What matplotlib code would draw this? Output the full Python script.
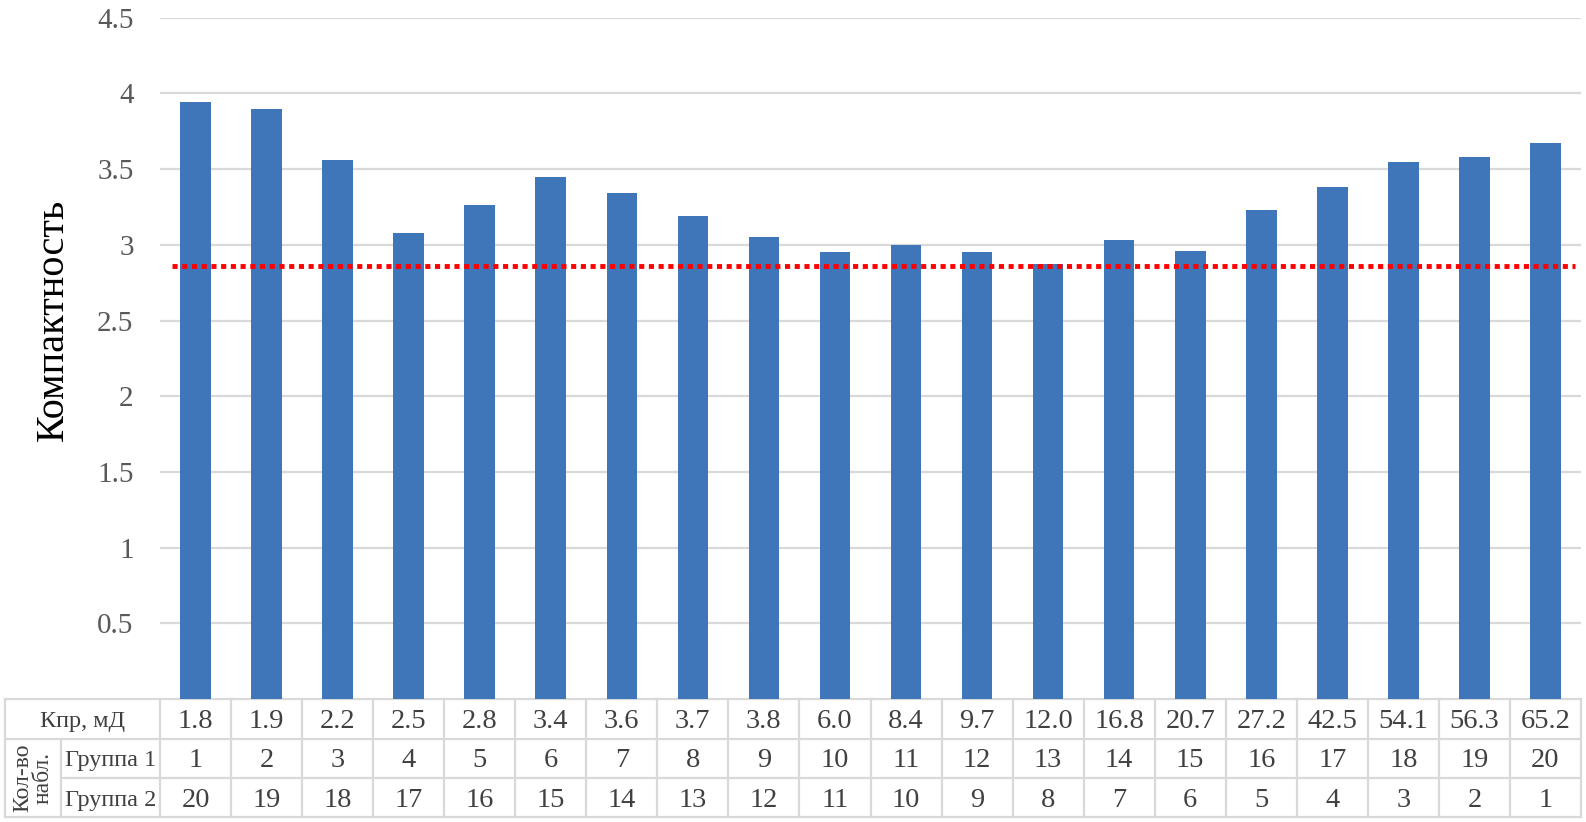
import numpy as np
import matplotlib
matplotlib.use("Agg")
import matplotlib.pyplot as plt
from matplotlib.transforms import blended_transform_factory

# ---- data ----
kpr_labels = ['1.8', '1.9', '2.2', '2.5', '2.8', '3.4', '3.6', '3.7', '3.8', '6.0',
              '8.4', '9.7', '12.0', '16.8', '20.7', '27.2', '42.5', '54.1', '56.3', '65.2']
group1 = [1, 2, 3, 4, 5, 6, 7, 8, 9, 10, 11, 12, 13, 14, 15, 16, 17, 18, 19, 20]
group2 = [20, 19, 18, 17, 16, 15, 14, 13, 12, 11, 10, 9, 8, 7, 6, 5, 4, 3, 2, 1]
compactness = [3.94, 3.90, 3.56, 3.08, 3.26, 3.45, 3.34, 3.19, 3.05, 2.95,
               3.00, 2.95, 2.87, 3.03, 2.96, 3.23, 3.38, 3.55, 3.58, 3.67]
threshold = 2.86
yticks = [0.5, 1, 1.5, 2, 2.5, 3, 3.5, 4, 4.5]
ylabel = 'Компактность'
row_label_kpr = 'Кпр, мД'
row_label_g1 = 'Группа 1'
row_label_g2 = 'Группа 2'
row_label_count = 'Кол-во\nнабл.'

# ---- style ----
plt.rcParams['font.family'] = ['Liberation Serif', 'DejaVu Serif']
W, H = 1586, 822
fig = plt.figure(figsize=(W / 100, H / 100), dpi=100)

ax_left, ax_right, ax_top, ax_bottom = 160, 1581, 17.7, 699
ax = fig.add_axes([ax_left / W, (H - ax_bottom) / H,
                   (ax_right - ax_left) / W, (ax_bottom - ax_top) / H])

x = np.arange(len(compactness))
ax.bar(x, compactness, width=0.43, color='#3e76b9', zorder=3)
ax.plot([-0.33, 19.42], [threshold, threshold], color='#ff0000', lw=3.5,
        linestyle=(0, (1.05, 0.95)), zorder=4, solid_capstyle='butt', dash_capstyle='butt')

ax.set_xlim(-0.5, len(compactness) - 0.5)
ax.set_ylim(0, 4.5)
ax.set_yticks(yticks)
ax.set_yticklabels([('%g' % t) for t in yticks], fontsize=21, color='#595959')
ax.tick_params(axis='y', length=0, pad=19)
ax.set_xticks([])
ax.grid(axis='y', color='#d9d9d9', lw=1.6, zorder=0)
for s in ax.spines.values():
    s.set_visible(False)
ax.set_ylabel(ylabel, fontsize=29, color='black')
ax.yaxis.set_label_coords(-0.062, 0.556)

# ---- table below the axes (x in data coords, y in figure pixels) ----
def fy(py):
    return (H - py) / H

trans = blended_transform_factory(ax.transData, fig.transFigure)
unit = (ax_right - ax_left) / len(compactness)
x_left_outer = -0.5 - (ax_left - 5) / unit
x_split = -0.5 - (ax_left - 61) / unit
x_first = -0.5
x_last = len(compactness) - 0.5
rows = [699, 738.5, 778, 817]
lc = '#d9d9d9'
lw = 1.6

def hline(x0, x1, py):
    ax.add_line(plt.Line2D([x0, x1], [fy(py), fy(py)], transform=trans, color=lc,
                           lw=lw, clip_on=False))

def vline(xx, py0, py1):
    ax.add_line(plt.Line2D([xx, xx], [fy(py0), fy(py1)], transform=trans, color=lc,
                           lw=lw, clip_on=False))

hline(x_left_outer, x_last, rows[0])
hline(x_left_outer, x_last, rows[1])
hline(x_split, x_last, rows[2])
hline(x_left_outer, x_last, rows[3])
vline(x_left_outer, rows[0], rows[3])
vline(x_split, rows[1], rows[3])
for b in np.arange(len(compactness) + 1) - 0.5:
    vline(b, rows[0], rows[3])

tc = '#404040'
fs = 20.5
shift = 2.5
cy = [(rows[i] + rows[i + 1]) / 2 + shift for i in range(3)]
for i in range(len(compactness)):
    ax.text(x[i], fy(cy[0]), kpr_labels[i], transform=trans, ha='center', va='center',
            fontsize=fs, color=tc)
    ax.text(x[i], fy(cy[1]), str(group1[i]), transform=trans, ha='center', va='center',
            fontsize=fs, color=tc)
    ax.text(x[i], fy(cy[2]), str(group2[i]), transform=trans, ha='center', va='center',
            fontsize=fs, color=tc)

ax.text((x_left_outer + x_first) / 2, fy(cy[0]), row_label_kpr, transform=trans,
        ha='center', va='center', fontsize=17.5, color=tc)
ax.text((x_split + x_first) / 2, fy(cy[1]), row_label_g1, transform=trans,
        ha='center', va='center', fontsize=17.5, color=tc)
ax.text((x_split + x_first) / 2, fy(cy[2]), row_label_g2, transform=trans,
        ha='center', va='center', fontsize=17.5, color=tc)
ax.text((x_left_outer + x_split) / 2, fy((rows[1] + rows[3]) / 2), row_label_count,
        transform=trans, ha='center', va='center', fontsize=17, color=tc,
        rotation=90, linespacing=1.0, multialignment='center')

fig.savefig('out.png', dpi=100)
